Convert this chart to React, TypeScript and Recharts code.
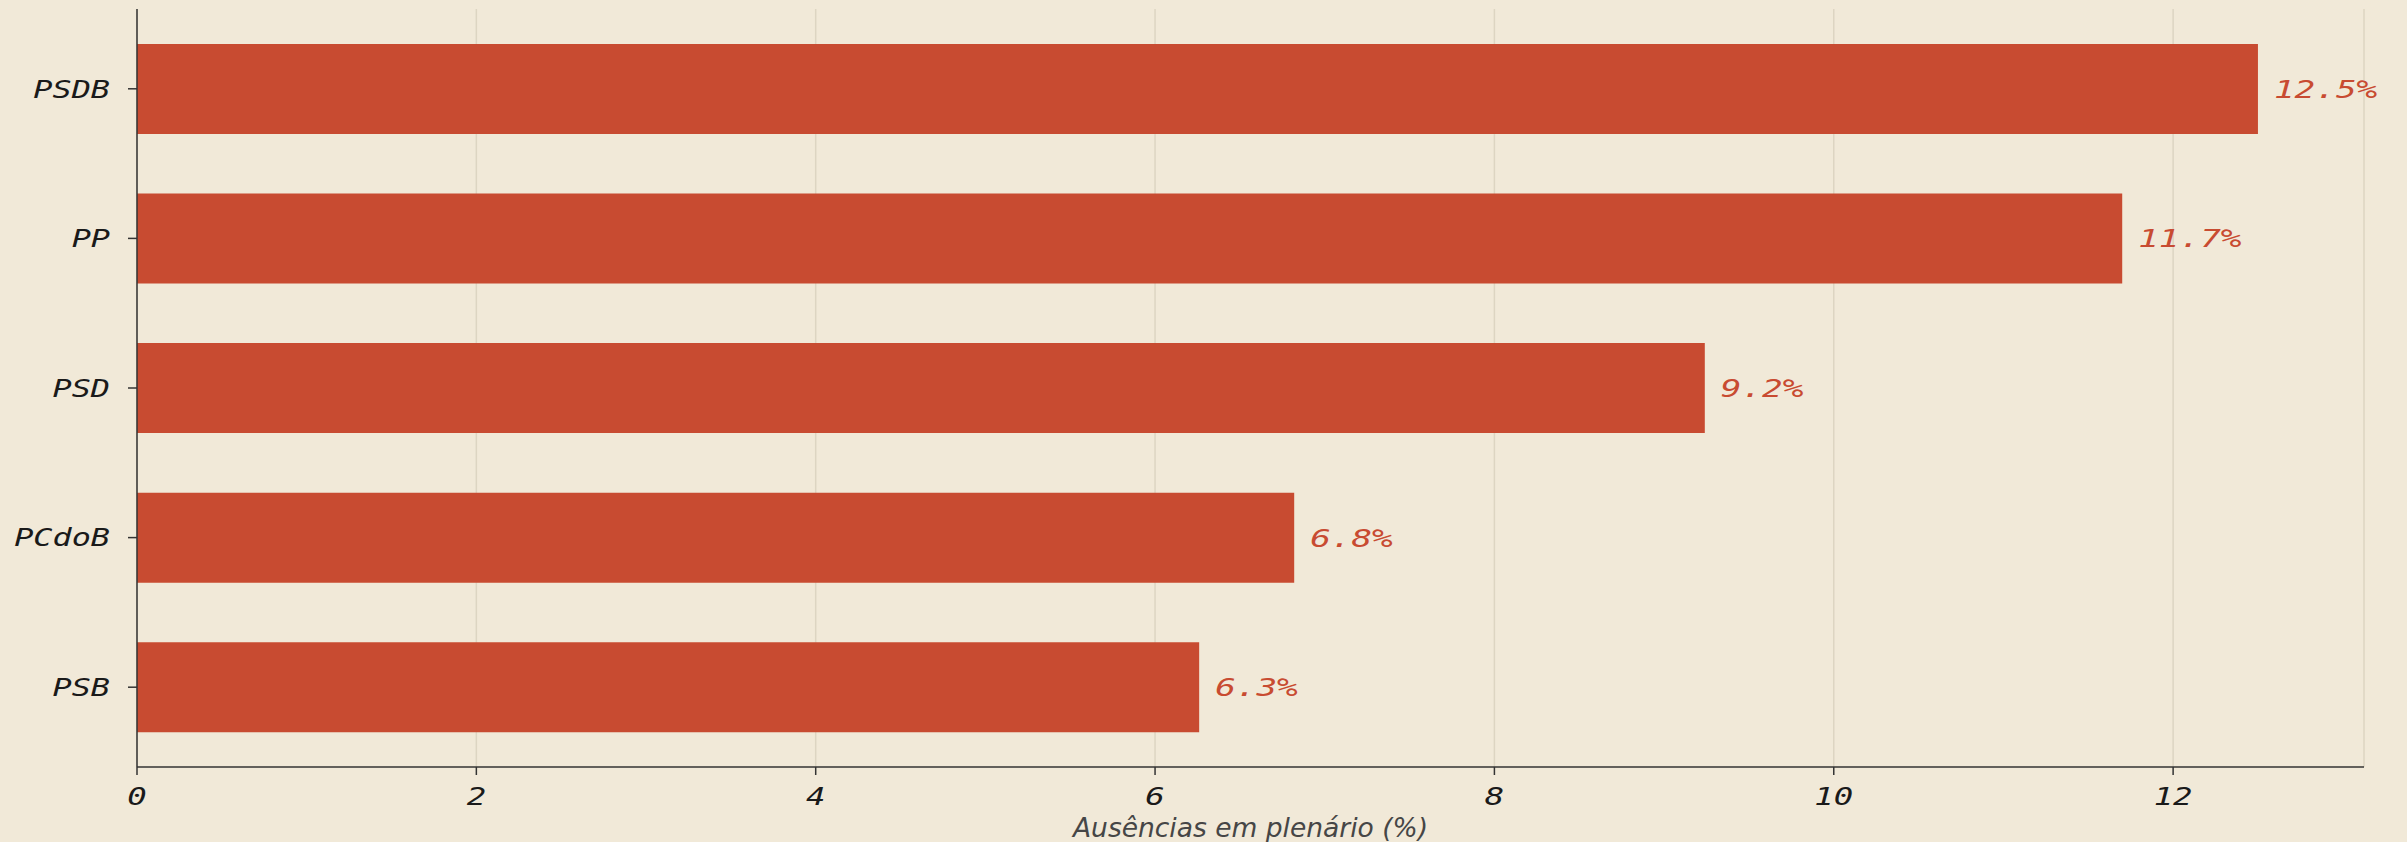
import React from "react";
import { BarChart, Bar, XAxis, YAxis, CartesianGrid, LabelList } from "recharts";

const parties = ["PSDB", "PP", "PSD", "PCdoB", "PSB"];
const absences = [12.5, 11.7, 9.24, 6.82, 6.26];
const xTicks = [0, 2, 4, 6, 8, 10, 12];
const xTitle = "Ausências em plenário (%)";

const data = parties.map((p, i) => ({ party: p, value: absences[i] }));

const BG = "#f1e9d8";
const BAR = "#c84b31";
const MONO = "'DejaVu Sans Mono', monospace";

type WideProps = {
  x: number;
  y: number;
  text: string;
  anchor: "start" | "middle" | "end";
  fill: string;
  fontSize: number;
  sx: number;
  dy: string;
};

const WideText = ({ x, y, text, anchor, fill, fontSize, sx, dy }: WideProps) => (
  <text
    transform={`translate(${x},${y}) scale(${sx},1)`}
    textAnchor={anchor}
    fill={fill}
    fontFamily={MONO}
    fontStyle="italic"
    fontSize={fontSize}
    dy={dy}
  >
    {text}
  </text>
);

const YTick = (props: any) => {
  const { x, y, payload } = props;
  return (
    <WideText x={x} y={y} text={String(payload.value)} anchor="end" fill="#1a1a1a" fontSize={24.5} sx={1.3} dy="0.36em" />
  );
};

const XTick = (props: any) => {
  const { x, y, payload } = props;
  return (
    <WideText x={x} y={y} text={String(payload.value)} anchor="middle" fill="#1a1a1a" fontSize={24.5} sx={1.32} dy="0.75em" />
  );
};

const ValueLabel = (props: any) => {
  const { x, y, width, height, value } = props;
  return (
    <WideText
      x={x + width + 16}
      y={y + height / 2}
      text={`${Number(value).toFixed(1)}%`}
      anchor="start"
      fill={BAR}
      fontSize={24.5}
      sx={1.4}
      dy="0.36em"
    />
  );
};

export default function App() {
  return (
    <div style={{ width: 2407, height: 842, background: BG }}>
      <style>{`body{margin:0;background:${BG};overflow:hidden}`}</style>
      <BarChart
        width={2407}
        height={842}
        data={data}
        layout="vertical"
        margin={{ top: 9, right: 43, bottom: 0, left: 0 }}
        barCategoryGap="20%"
      >
        <CartesianGrid horizontal={false} stroke="#ddd5c2" strokeWidth={1.5} />
        <XAxis
          type="number"
          domain={[0, (dataMax: number) => dataMax * 1.05]}
          ticks={xTicks}
          height={75}
          tickSize={8}
          tickMargin={12}
          stroke="#333"
          strokeWidth={1.5}
          tick={<XTick />}
          label={{
            value: xTitle,
            position: "insideBottom",
            offset: 5,
            fill: "#464646",
            fontFamily: "'DejaVu Sans', sans-serif",
            fontStyle: "italic",
            fontSize: 26.5,
          }}
        />
        <YAxis
          type="category"
          dataKey="party"
          width={137}
          tickSize={9}
          tickMargin={18}
          padding={{ top: 5, bottom: 5 }}
          stroke="#333"
          strokeWidth={1.5}
          tick={<YTick />}
        />
        <Bar dataKey="value" fill={BAR} isAnimationActive={false}>
          <LabelList dataKey="value" content={<ValueLabel />} />
        </Bar>
      </BarChart>
    </div>
  );
}
